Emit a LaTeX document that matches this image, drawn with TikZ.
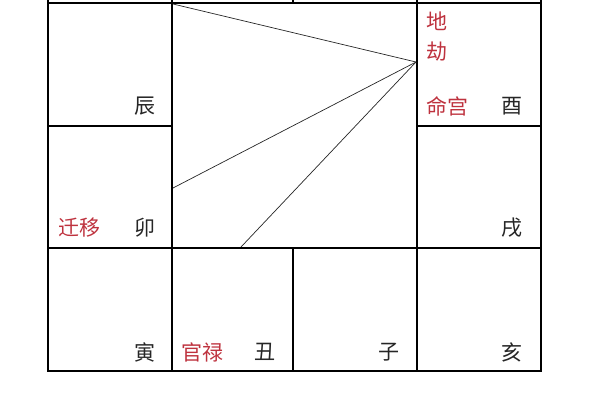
\documentclass[tikz,border=0pt]{standalone}
\usepackage{fontspec}
\newfontfamily\cjk{Noto Sans CJK SC}
\definecolor{lbl}{RGB}{190,50,62}
\tikzset{
  grid/.style={line width=2pt,black},
  ray/.style={line width=0.7pt,black!85},
  zh/.style={font=\cjk\fontsize{21}{21}\selectfont,inner sep=0pt,text=black!85},
  zhred/.style={zh,text=lbl}
}
\begin{document}
\begin{tikzpicture}[x=1pt,y=-1pt]
\useasboundingbox (0,0) rectangle (600,400);
\clip (0,0) rectangle (600,400);
% grid
\draw[grid] (48,-10) -- (48,371) -- (541,371) -- (541,-10);
\draw[grid] (48,3) -- (541,3);
\draw[grid] (172,-10) -- (172,371);
\draw[grid] (293,-10) -- (293,3);
\draw[grid] (293,248) -- (293,371);
\draw[grid] (417,-10) -- (417,371);
\draw[grid] (48,126) -- (172,126);
\draw[grid] (417,126) -- (541,126);
\draw[grid] (48,248) -- (541,248);
% rays
\coordinate (apex) at (416,62);
\coordinate (tl) at (173,4);
\coordinate (lft) at (173,188);
\coordinate (bot) at (241,247);
\draw[ray] (apex) -- (tl);
\draw[ray] (apex) -- (lft);
\draw[ray] (apex) -- (bot);
% labels
\node[zhred] (di) at (437,21) {地};
\node[zhred] (jie) at (437,52) {劫};
\node[zhred] (ming) at (447,106) {命宫};
\node[zh] (you) at (512,106) {酉};
\node[zh] (chen) at (145,106) {辰};
\node[zhred] (qian) at (79,228) {迁移};
\node[zh] (mao) at (145,228) {卯};
\node[zh] (xu) at (512,228) {戌};
\node[zh] (yin) at (145,352) {寅};
\node[zhred] (guan) at (202,352) {官禄};
\node[zh] (chou) at (265,352) {丑};
\node[zh] (zi) at (389,352) {子};
\node[zh] (hai) at (512,352) {亥};
\end{tikzpicture}
\end{document}
